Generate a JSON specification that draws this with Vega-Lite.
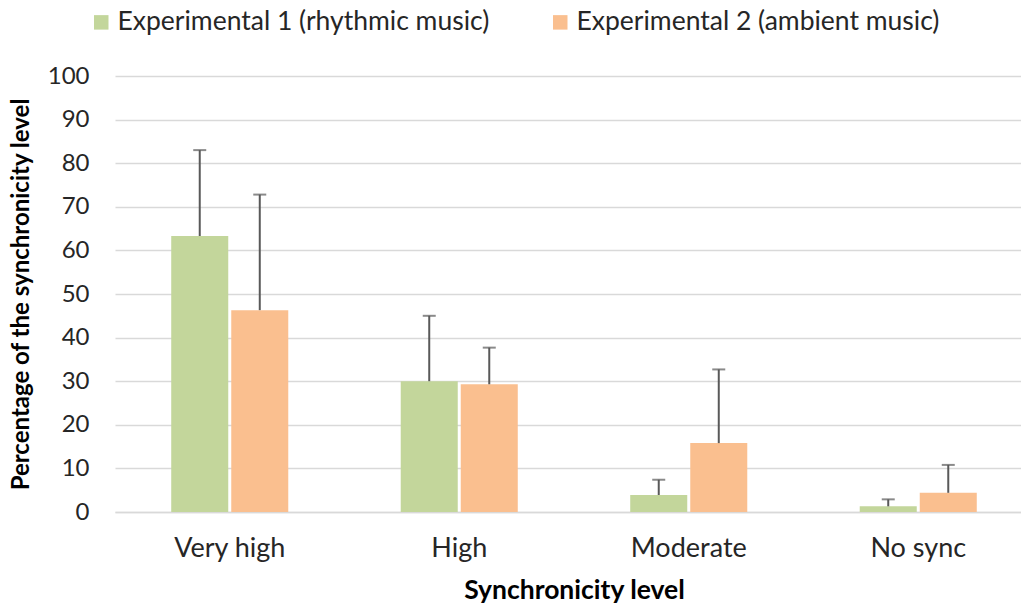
{
  "$schema": "https://vega.github.io/schema/vega-lite/v6.json",
  "autosize": {"type": "none"},
  "padding": {"left": 115, "top": 76, "right": 0, "bottom": 93},
  "width": 906,
  "height": 436,
  "background": "white",
  "config": {
    "font": "Lato",
    "view": {"stroke": null}
  },
  "data": {
    "values": [
      {"level": "Very high", "group": "Experimental 1 (rhythmic music)", "value": 63.3, "upper": 83.0},
      {"level": "Very high", "group": "Experimental 2 (ambient music)", "value": 46.3, "upper": 72.8},
      {"level": "High", "group": "Experimental 1 (rhythmic music)", "value": 30.0, "upper": 45.0},
      {"level": "High", "group": "Experimental 2 (ambient music)", "value": 29.3, "upper": 37.7},
      {"level": "Moderate", "group": "Experimental 1 (rhythmic music)", "value": 3.9, "upper": 7.4},
      {"level": "Moderate", "group": "Experimental 2 (ambient music)", "value": 15.8, "upper": 32.7},
      {"level": "No sync", "group": "Experimental 1 (rhythmic music)", "value": 1.3, "upper": 2.9},
      {"level": "No sync", "group": "Experimental 2 (ambient music)", "value": 4.4, "upper": 10.8}
    ]
  },
  "encoding": {
    "x": {
      "field": "level", "type": "nominal",
      "sort": ["Very high", "High", "Moderate", "No sync"],
      "scale": {"paddingInner": 0.49, "paddingOuter": 0.245, "range": [0, 918]},
      "axis": {
        "title": "Synchronicity level", "titleFontSize": 26.5, "titleFontWeight": "bold", "titleColor": "#000000",
        "titlePadding": 16,
        "labelAngle": 0, "labelFontSize": 27, "labelColor": "#262626", "labelPadding": 23,
        "ticks": false, "domainColor": "#d9d9d9", "domainWidth": 1.5, "grid": false
      }
    },
    "xOffset": {
      "field": "group", "type": "nominal",
      "scale": {"paddingInner": 0.05}
    }
  },
  "layer": [
    {
      "mark": {"type": "bar"},
      "encoding": {
        "y": {
          "field": "value", "type": "quantitative",
          "scale": {"domain": [0, 100]},
          "axis": {
            "title": "Percentage of the synchronicity level", "titleFontSize": 24, "titleFontWeight": "bold", "titleColor": "#000000",
            "titlePadding": 14,
            "values": [0, 10, 20, 30, 40, 50, 60, 70, 80, 90, 100],
            "labelFontSize": 24, "labelColor": "#262626", "labelPadding": 26,
            "ticks": false, "domain": false, "gridColor": "#d9d9d9", "gridWidth": 1.5
          }
        },
        "color": {
          "field": "group", "type": "nominal",
          "scale": {"range": ["#c3d69b", "#fabf8f"]},
          "legend": {
            "title": null, "orient": "none", "legendX": -27, "legendY": -67,
            "direction": "horizontal", "columns": 2, "columnPadding": 57,
            "symbolType": "square", "symbolSize": 210, "symbolStrokeWidth": 0,
            "labelFontSize": 26.5, "labelColor": "#262626", "labelOffset": 3, "labelLimit": 0
          }
        }
      }
    },
    {
      "mark": {"type": "rule", "color": "#595959", "strokeWidth": 2},
      "encoding": {
        "y": {"field": "value", "type": "quantitative"},
        "y2": {"field": "upper"}
      }
    },
    {
      "mark": {"type": "tick", "color": "#595959", "thickness": 2, "size": 13},
      "encoding": {
        "y": {"field": "upper", "type": "quantitative"}
      }
    }
  ]
}
